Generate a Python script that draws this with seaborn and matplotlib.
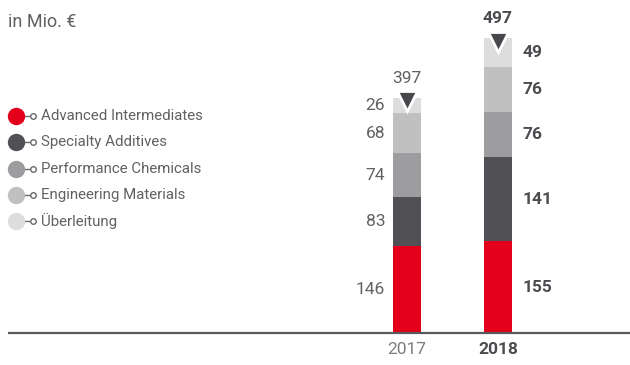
import matplotlib
matplotlib.use("Agg")
import matplotlib.pyplot as plt
import seaborn as sns
import pandas as pd
import numpy as np

years = ["2017", "2018"]
segments = ["Advanced Intermediates", "Specialty Additives", "Performance Chemicals",
            "Engineering Materials", "Überleitung"]
values_2017 = [146, 83, 74, 68, 26]
values_2018 = [155, 141, 76, 76, 49]
totals = [397, 497]
colors = ["#E2001A", "#505055", "#9D9D9F", "#C0C0C1", "#DDDDDE"]
unit_label = "in Mio. €"

sns.set_theme(style="white")
plt.rcParams["font.family"] = ["Roboto", "DejaVu Sans"]

W, H = 630, 365
fig = plt.figure(figsize=(W / 100, H / 100), dpi=100)
ax = fig.add_axes([0, 0, 1, 1])

# long-form table with cumulative stack heights
rows = []
for y, vals in zip(years, [values_2017, values_2018]):
    cum = np.cumsum(vals)
    for seg, v, c in zip(segments, vals, cum):
        rows.append({"year": y, "segment": seg, "value": v, "top": c})
df = pd.DataFrame(rows)

# draw stacks from the top layer down so each lower layer covers the one above
for seg, col in reversed(list(zip(segments, colors))):
    sub = df[df["segment"] == seg]
    sns.barplot(data=sub, x="year", y="top", order=years, color=col,
                width=0.31, saturation=1, ax=ax, errorbar=None, linewidth=0)

# pixel layout: bar centres at x=407 and x=498, baseline at y=333
px_per_unit = 0.593
base_px = 333
step = 91
ax.set_xlim(-407 / step, (W - 407) / step)
ax.set_ylim(-(H - base_px) / px_per_unit, base_px / px_per_unit)
ax.axis("off")

text_grey = "#616165"
dark = "#4C4C50"

# baseline
ax.plot([(8 - 407) / step, (W - 407) / step], [0, 0], color="#5A5A5E", lw=1.6,
        solid_capstyle="butt")

# segment value labels
for i, (y, vals) in enumerate(zip(years, [values_2017, values_2018])):
    cum = np.cumsum(vals)
    for v, c in zip(vals, cum):
        mid = c - v / 2
        if i == 0:
            ax.text(i - 0.24, mid, str(v), ha="right", va="center", fontsize=12.5,
                    color=text_grey, fontweight="normal")
        else:
            ax.text(i + 0.27, mid, str(v), ha="left", va="center", fontsize=12.5,
                    color=dark, fontweight="bold")

# totals with down-pointing markers
for i, t in enumerate(totals):
    ax.plot(i, t - 6, marker="v", markersize=15, color="#48484C",
            markeredgecolor="white", markeredgewidth=2, zorder=5)
    ax.text(i, t + 33, str(t), ha="center", va="center", fontsize=12.5,
            color=text_grey if i == 0 else dark,
            fontweight="normal" if i == 0 else "bold")

# year labels
for i, y in enumerate(years):
    ax.text(i, -27, y, ha="center", va="center", fontsize=12.5,
            color="#7E7E82" if i == 0 else dark,
            fontweight="normal" if i == 0 else "bold")

# unit label
fig.text(8 / W, 1 - 22 / H, unit_label, ha="left", va="center", fontsize=13,
         color=text_grey, fontweight="normal")

# legend
for k, (seg, col) in enumerate(zip(segments, colors)):
    yy = 1 - (116 + k * 26.3) / H
    fig.add_artist(plt.Line2D([22 / W, 31 / W], [yy, yy], color="#6A6A6E", lw=1,
                              transform=fig.transFigure))
    fig.add_artist(plt.Line2D([16 / W], [yy], marker="o", markersize=12.5, color=col,
                              markeredgewidth=0, transform=fig.transFigure))
    fig.add_artist(plt.Line2D([33 / W], [yy], marker="o", markersize=4,
                              markerfacecolor="white", markeredgecolor="#6A6A6E",
                              markeredgewidth=1, transform=fig.transFigure))
    fig.text(41 / W, yy, seg, ha="left", va="center", fontsize=10.8,
             color=text_grey, fontweight="normal")

fig.savefig("out.png", dpi=100)
